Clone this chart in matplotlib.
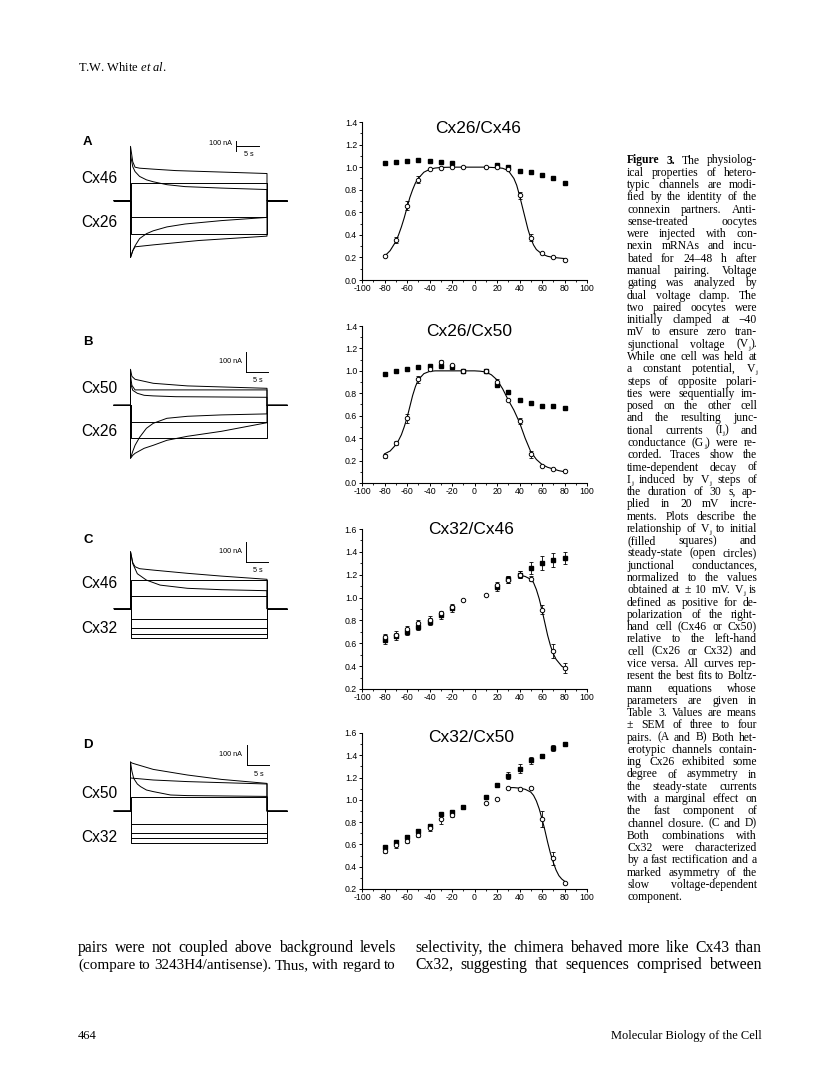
import numpy as np
import matplotlib
matplotlib.use('Agg')
import matplotlib.pyplot as plt

W, H = 816, 1089
nan = np.nan

# ---- conductance plots: Vj (mV) vs normalized Gj ----
vj = [-80, -70, -60, -50, -40, -30, -20, -10, 10, 20, 30, 40, 50, 60, 70, 80]

# A: Cx26/Cx46
gi_a = [1.035, 1.05, 1.056, 1.062, 1.056, 1.044, 1.04, nan, nan, 1.02, 1.0, 0.97, 0.953, 0.93, 0.90, 0.86]
gi_a_err = [0] * 16
gss_a = [0.213, 0.355, 0.657, 0.888, 0.982, 0.994, 1.0, 1.0, 1.0, 0.997, 0.98, 0.75, 0.376, 0.237, 0.207, 0.18]
gss_a_err = [0, 0.03, 0.04, 0.03, 0, 0, 0, 0, 0, 0, 0, 0.03, 0.03, 0, 0, 0]
fit_a_v = [-80, -75, -70, -67.5, -65, -62.5, -60, -57.5, -55, -52.5, -50, -45, -40, -35, -30, -20, -10, 0,
           10, 20, 25, 30, 35, 37.5, 40, 42.5, 45, 47.5, 50, 52.5, 55, 60, 65, 70, 75, 80]
fit_a_g = [0.21, 0.26, 0.34, 0.40, 0.47, 0.55, 0.64, 0.73, 0.80, 0.86, 0.90, 0.955, 0.98, 0.992, 0.997, 1.0, 1.0, 1.0,
           1.0, 0.995, 0.99, 0.97, 0.90, 0.84, 0.75, 0.65, 0.55, 0.45, 0.37, 0.31, 0.27, 0.23, 0.21, 0.20, 0.195, 0.19]

# B: Cx26/Cx50
gi_b = [0.976, 1.0, 1.018, 1.033, 1.047, 1.044, 1.035, 1.0, 1.003, 0.873, 0.81, 0.743, 0.71, 0.69, 0.683, 0.67]
gi_b_err = [0, 0, 0, 0, 0, 0, 0, 0, 0, 0.015, 0.015, 0, 0, 0, 0, 0]
gss_b = [0.24, 0.355, 0.577, 0.923, 1.02, 1.083, 1.05, 1.0, 1.0, 0.905, 0.74, 0.553, 0.257, 0.154, 0.124, 0.104]
gss_b_err = [0.015, 0.02, 0.04, 0.03, 0.015, 0.015, 0, 0, 0, 0.02, 0, 0.03, 0.03, 0, 0, 0]
fit_b_v = [-80, -75, -70, -67.5, -65, -62.5, -60, -57.5, -55, -52.5, -50, -45, -40, -35, -30, -20, -10, 0,
           5, 10, 15, 20, 25, 30, 35, 40, 45, 50, 55, 60, 65, 70, 75, 80]
fit_b_g = [0.26, 0.285, 0.34, 0.38, 0.43, 0.50, 0.58, 0.68, 0.78, 0.86, 0.92, 0.975, 0.995, 1.0, 1.0, 1.0, 1.0, 1.0,
           0.997, 0.99, 0.965, 0.92, 0.84, 0.74, 0.65, 0.54, 0.40, 0.28, 0.21, 0.165, 0.14, 0.125, 0.11, 0.10]

# C: Cx32/Cx46
gi_c = [0.63, 0.66, 0.70, 0.745, 0.79, 0.845, 0.905, nan, nan, 1.09, 1.16, 1.20, 1.258, 1.305, 1.33, 1.346]
gi_c_err = [0.04, 0.03, 0.03, 0.03, 0.03, 0.03, 0.03, 0, 0, 0.03, 0.03, 0.03, 0.05, 0.06, 0.06, 0.05]
gss_c = [0.655, 0.675, 0.725, 0.775, 0.806, 0.865, 0.92, 0.975, 1.025, 1.11, 1.156, 1.2, 1.165, 0.894, 0.53, 0.384]
gss_c_err = [0.03, 0.03, 0.03, 0.03, 0.03, 0.02, 0.02, 0, 0, 0.03, 0.03, 0.03, 0.02, 0.04, 0.06, 0.04]
fit_c_v = [40, 45, 50, 52.5, 55, 57.5, 60, 62.5, 65, 67.5, 70, 72.5, 75, 77.5, 80]
fit_c_g = [1.195, 1.185, 1.16, 1.13, 1.07, 0.99, 0.89, 0.78, 0.67, 0.58, 0.51, 0.46, 0.43, 0.40, 0.385]

# D: Cx32/Cx50
gi_d = [0.579, 0.618, 0.669, 0.72, 0.764, 0.869, 0.887, 0.937, 1.024, 1.134, 1.218, 1.28, 1.355, 1.394, 1.466, 1.505]
gi_d_err = [0.01, 0.015, 0.015, 0.015, 0.015, 0.01, 0.01, 0, 0, 0, 0.03, 0.04, 0.03, 0.02, 0.03, 0.01]
gss_d = [0.54, 0.594, 0.63, 0.684, 0.743, 0.827, 0.863, nan, 0.97, 1.01, 1.11, 1.10, 1.107, 0.827, 0.475, 0.257]
gss_d_err = [0.015, 0.03, 0.02, 0.02, 0.02, 0.04, 0.02, 0, 0, 0, 0, 0, 0, 0.07, 0.06, 0]
fit_d_v = [30, 35, 40, 45, 50, 52.5, 55, 57.5, 60, 62.5, 65, 67.5, 70, 72.5, 75, 77.5, 80]
fit_d_g = [1.11, 1.11, 1.105, 1.095, 1.07, 1.04, 0.99, 0.92, 0.83, 0.73, 0.62, 0.52, 0.44, 0.37, 0.32, 0.29, 0.27]

titles = ['Cx26/Cx46', 'Cx26/Cx50', 'Cx32/Cx46', 'Cx32/Cx50']

# ---- current traces: (time s, current nA) ----
traces_a = [([0, 30], [180, 180]),
            ([0, 0.5, 1, 2, 5, 10, 20, 30], [560, 400, 345, 335, 325, 310, 295, 280]),
            ([0, 0.5, 1, 2, 3.5, 5, 8, 12, 20, 30], [470, 350, 300, 250, 215, 195, 165, 145, 130, 115]),
            ([0, 30], [-170, -170]),
            ([0, 30], [-345, -345]),
            ([0, 0.5, 1, 2, 3.5, 5, 8, 12, 20, 30], [-585, -515, -465, -390, -340, -310, -270, -240, -205, -172]),
            ([0, 0.5, 1, 5, 15, 30], [-585, -515, -475, -455, -410, -365])]
traces_b = [([0, 0.3, 1, 5, 12.5, 30], [180, 145, 130, 110, 97, 85]),
            ([0, 0.3, 1, 30], [150, 100, 77, 77]),
            ([0, 0.5, 1.5, 3, 5, 10, 30], [110, 75, 60, 50, 47, 43, 40]),
            ([0, 30], [-82, -82]),
            ([0, 30], [-165, -165]),
            ([0, 0.5, 1, 2, 3.5, 5, 8, 12.5, 20, 30], [-265, -230, -200, -160, -115, -90, -65, -55, -48, -43]),
            ([0, 0.5, 1, 3, 5, 8, 12.5, 20, 30], [-265, -250, -240, -215, -200, -175, -155, -130, -87])]
traces_c = [([0, 0.5, 1, 2, 5, 12.5, 20, 30], [285, 230, 210, 200, 193, 177, 163, 147]),
            ([0, 0.5, 1.5, 3.5, 6.5, 12.5, 20, 30], [285, 225, 175, 143, 118, 102, 95, 90]),
            ([0, 30], [143, 143]),
            ([0, 30], [63, 63]),
            ([0, 30], [-53, -53]),
            ([0, 30], [-98, -98]),
            ([0, 30], [-127, -127]),
            ([0, 30], [-148, -148])]
traces_d = [([0, 0.3, 1, 5, 12.5, 20, 30], [245, 240, 235, 208, 180, 158, 138]),
            ([0, 5, 12.5, 30], [165, 155, 147, 135]),
            ([0, 0.3, 0.7, 1.5, 2.2, 3.5, 5, 8.8, 12.5, 30], [245, 200, 163, 135, 122, 105, 97, 80, 77, 73]),
            ([0, 30], [68, 68]),
            ([0, 30], [-65, -65]),
            ([0, 30], [-108, -108]),
            ([0, 30], [-137, -137]),
            ([0, 30], [-162, -162])]

panel_letters = ['A', 'B', 'C', 'D']
upper_names = ['Cx46', 'Cx50', 'Cx46', 'Cx50']
lower_names = ['Cx26', 'Cx26', 'Cx32', 'Cx32']

# "_j" marks a subscript j
caption = [
    "Figure 3.  The physiolog-", "ical properties of hetero-", "typic channels are modi-",
    "fied by the identity of the", "connexin partners. Anti-", "sense-treated oocytes",
    "were injected with con-", "nexin mRNAs and incu-", "bated for 24\u201348 h after",
    "manual pairing. Voltage", "gating was analyzed by", "dual voltage clamp. The",
    "two paired oocytes were", "initially clamped at \u221240", "mV to ensure zero tran-",
    "sjunctional voltage (V_j).", "While one cell was held at", "a constant potential, V_j",
    "steps of opposite polari-", "ties were sequentially im-", "posed on the other cell",
    "and the resulting junc-", "tional currents (I_j) and", "conductance (G_j) were re-",
    "corded. Traces show the", "time-dependent decay of", "I_j induced by V_j steps of",
    "the duration of 30 s, ap-", "plied in 20 mV incre-", "ments. Plots describe the",
    "relationship of V_j to initial", "(filled squares) and", "steady-state (open circles)",
    "junctional conductances,", "normalized to the values", "obtained at \u00b1 10 mV. V_j is",
    "defined as positive for de-", "polarization of the right-", "hand cell (Cx46 or Cx50)",
    "relative to the left-hand", "cell (Cx26 or Cx32) and", "vice versa. All curves rep-",
    "resent the best fits to Boltz-", "mann equations whose", "parameters are given in",
    "Table 3. Values are means", "\u00b1 SEM of three to four", "pairs. (A and B) Both het-",
    "erotypic channels contain-", "ing Cx26 exhibited some", "degree of asymmetry in",
    "the steady-state currents", "with a marginal effect on", "the fast component of",
    "channel closure. (C and D)", "Both combinations with", "Cx32 were characterized",
    "by a fast rectification and a", "marked asymmetry of the", "slow voltage-dependent",
    "component."]

body_left = ["pairs were not coupled above background levels",
             "(compare to 3243H4/antisense). Thus, with regard to"]
body_right = ["selectivity, the chimera behaved more like Cx43 than",
              "Cx32, suggesting that sequences comprised between"]

plt.rcParams['font.family'] = ['Liberation Sans', 'DejaVu Sans']
plt.rcParams['axes.unicode_minus'] = False
plt.rcParams['mathtext.fontset'] = 'custom'
plt.rcParams['mathtext.rm'] = 'Liberation Serif'
plt.rcParams['mathtext.it'] = 'Liberation Serif:italic'

fig = plt.figure(figsize=(W / 100, H / 100), dpi=100)
SERIF = 'Liberation Serif'


def px_axes(l, t, r, b):
    return fig.add_axes([l / W, 1 - b / H, (r - l) / W, (b - t) / H])


def ftext(x, y, s, **kw):
    return fig.text(x / W, 1 - y / H, s, **kw)


# ---- conductance plots ----
plot_boxes = [(362, 122, 587, 280), (362, 326, 587, 483), (362, 529, 587, 689), (362, 733, 587, 889)]
ylims = [(0, 1.4), (0, 1.4), (0.2, 1.6), (0.2, 1.6)]
title_pos = [(478, 128.5), (469, 331), (471, 529), (471, 738)]
data = [(gi_a, gi_a_err, gss_a, gss_a_err, fit_a_v, fit_a_g),
        (gi_b, gi_b_err, gss_b, gss_b_err, fit_b_v, fit_b_g),
        (gi_c, gi_c_err, gss_c, gss_c_err, fit_c_v, fit_c_g),
        (gi_d, gi_d_err, gss_d, gss_d_err, fit_d_v, fit_d_g)]

v = np.array(vj)
for box, yl, tp, title, (gi, gie, gss, gsse, fv, fg) in zip(plot_boxes, ylims, title_pos, titles, data):
    ax = px_axes(*box)
    ax.set_xlim(-100, 100)
    ax.set_ylim(*yl)
    for s in ['top', 'right']:
        ax.spines[s].set_visible(False)
    for s in ['left', 'bottom']:
        ax.spines[s].set_linewidth(0.8)
    ax.set_xticks(np.arange(-100, 101, 20))
    ax.set_xticks(np.arange(-90, 100, 20), minor=True)
    ax.set_yticks(np.arange(yl[0], yl[1] + 0.01, 0.2))
    ax.set_yticks(np.arange(yl[0] + 0.1, yl[1], 0.2), minor=True)
    ax.yaxis.set_major_formatter(matplotlib.ticker.FormatStrFormatter('%.1f'))
    ax.tick_params(which='major', direction='out', length=2.5, width=0.7, labelsize=6.3, pad=1)
    ax.tick_params(which='minor', direction='out', length=1.5, width=0.6)
    ax.tick_params(axis='x', pad=0.5)

    ax.plot(fv, fg, color='black', lw=0.8, zorder=2)
    gi = np.array(gi, dtype=float)
    gie = np.array(gie, dtype=float)
    gss = np.array(gss, dtype=float)
    gsse = np.array(gsse, dtype=float)
    m = gie > 0
    ax.errorbar(v[m], gi[m], yerr=gie[m], fmt='none', ecolor='black', elinewidth=0.6, capsize=1.3, capthick=0.6, zorder=3)
    m = gsse > 0
    ax.errorbar(v[m], gss[m], yerr=gsse[m], fmt='none', ecolor='black', elinewidth=0.6, capsize=1.3, capthick=0.6, zorder=3)
    ax.plot(v, gi, 's', color='black', ms=2.8, zorder=4)
    ax.plot(v, gss, 'o', mfc='white', mec='black', mew=0.7, ms=3.2, zorder=5)
    ax.patch.set_visible(False)
    ftext(tp[0], tp[1], title, fontsize=12.5, ha='center', va='center')

# ---- current traces ----
baselines = [200.7, 405.3, 608.7, 811]
na_per_px = [10.3, 5.0, 5.0, 5.0]
all_traces = [traces_a, traces_b, traces_c, traces_d]
t_of_px = lambda px: (px - 130.5) / 4.55
bar_pos = [(23.2, 515, True), (25.3, 168, False), (25.3, 235, False), (25.5, 230, False)]
letter_y = [141.7, 341.7, 540, 745]
upper_y = [178.3, 388.3, 583.3, 793.3]
lower_y = [222.7, 431.7, 628.3, 837.3]

for i in range(4):
    b = baselines[i]
    k = na_per_px[i]
    ax = px_axes(100, b - 75, 300, b + 75)
    ax.set_xlim(t_of_px(100), t_of_px(300))
    ax.set_ylim(-75 * k, 75 * k)
    ax.axis('off')
    for t, cur in all_traces[i]:
        tt = [t_of_px(114), 0] + list(t) + [30, t_of_px(287)]
        ii = [0, 0] + list(cur) + [0, 0]
        ax.plot(tt, ii, color='black', lw=0.7)
    t0, i0, cross = bar_pos[i]
    ax.plot([t0, t0], [i0, i0 + 100], color='black', lw=0.7)
    hy = i0 + 50 if cross else i0
    ax.plot([t0, t0 + 5], [hy, hy], color='black', lw=0.7)
    ax.text(t0 - 0.9, i0 + (70 if cross else 50), '100 nA', fontsize=5.2, ha='right', va='center')
    ax.text(t0 + 2.7, hy - 9 * k, '5 s', fontsize=5.2, ha='center', va='center')

    ftext(83, letter_y[i], panel_letters[i], fontsize=9.5, weight='bold', ha='left', va='center')
    ftext(81, upper_y[i], upper_names[i], fontsize=11.2, ha='left', va='center')
    ftext(81, lower_y[i], lower_names[i], fontsize=11.2, ha='left', va='center')

# ---- text blocks ----
fig.canvas.draw()
rend = fig.canvas.get_renderer()


def width_of(s, size, weight='normal'):
    t = ftext(0, 0, s, fontsize=size, family=SERIF, weight=weight)
    w = t.get_window_extent(renderer=rend).width
    t.remove()
    return w


def segments(word):
    # split a word at "_j" into (text, is_subscript) pieces
    parts = word.split('_j')
    segs = []
    for j, p in enumerate(parts):
        if p:
            segs.append((p, False))
        if j < len(parts) - 1:
            segs.append(('j', True))
    return segs


def word_width(word, size, weight):
    return sum(width_of(s, size * 0.62 if sub else size, weight) for s, sub in segments(word))


def draw_word(word, x, y, size, weight):
    for s, sub in segments(word):
        sz = size * 0.62 if sub else size
        ftext(x, y + (1.8 if sub else 0), s, fontsize=sz, family=SERIF, va='baseline', weight=weight)
        x += width_of(s, sz, weight)


def justify(line, x0, x1, y, size, last=False, bold_first=0):
    words = line.split()
    n = len(words)
    wts = ['bold' if j < bold_first else 'normal' for j in range(n)]
    while True:
        sw = width_of('a a', size) - width_of('aa', size)
        widths = [word_width(w, size, wt) for w, wt in zip(words, wts)]
        if last or n == 1 or sum(widths) + (n - 1) * 0.75 * sw <= x1 - x0 or size < 5:
            break
        size -= 0.2
    gap = sw if (last or n == 1) else (x1 - x0 - sum(widths)) / (n - 1)
    x = x0
    for w, wd, wt in zip(words, widths, wts):
        draw_word(w, x, y, size, wt)
        x += wd + gap


for j, line in enumerate(caption):
    justify(line, 627, 757, 163.5 + j * 12.28, 8.4, last=(j == len(caption) - 1),
            bold_first=2 if j == 0 else 0)

for j, line in enumerate(body_left):
    justify(line, 78, 396, 952 + j * 17, 11.3)
for j, line in enumerate(body_right):
    justify(line, 415, 762, 952 + j * 17, 11.3)

ftext(78, 71, r'T.W. White $\mathit{et\ al.}$', fontsize=9, family=SERIF, va='baseline')
ftext(78, 1039, '464', fontsize=9, family=SERIF, va='baseline')
ftext(762, 1039, 'Molecular Biology of the Cell', fontsize=9, family=SERIF, va='baseline', ha='right')

fig.savefig('out.png', dpi=100)
